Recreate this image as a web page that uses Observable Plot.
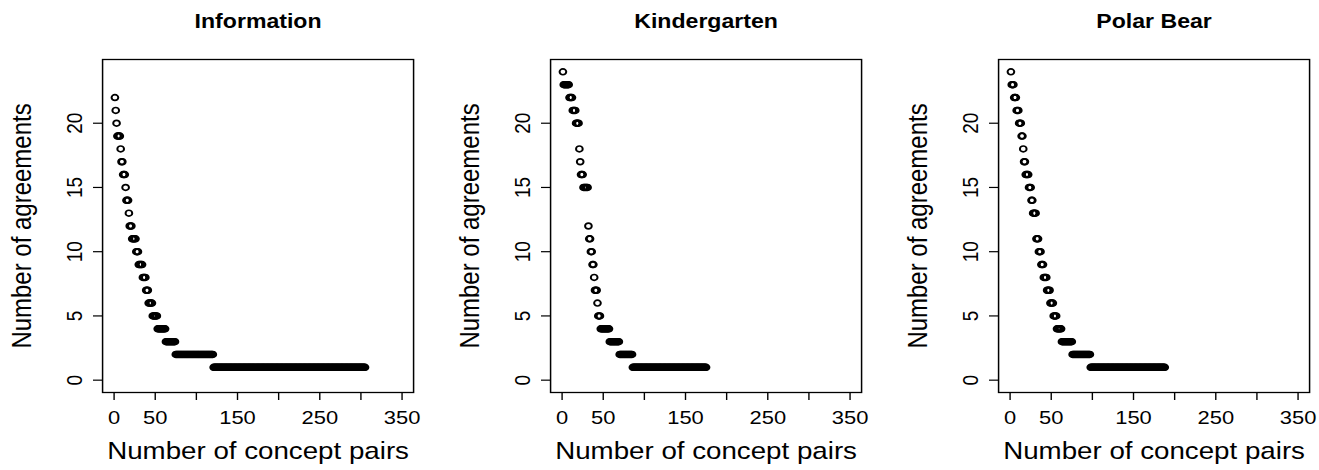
<!DOCTYPE html>
<html>
<head>
<meta charset="utf-8">
<script src="https://cdn.jsdelivr.net/npm/d3@7"></script>
<script src="https://cdn.jsdelivr.net/npm/@observablehq/plot@0.6"></script>
<style>
  html, body { margin: 0; padding: 0; background: white; overflow: hidden; }
  #row { display: flex; flex-direction: row; width: 1319px; height: 470px; }
  #row > div { flex: none; }
</style>
</head>
<body>
<div id="row"></div>
<script>
// ---- data ----
const panelTitles = ["Information", "Kindergarten", "Polar Bear"];
const agreementLevels = [24, 23, 22, 21, 20, 19, 18, 17, 16, 15, 14, 13, 12, 11, 10, 9, 8, 7, 6, 5, 4, 3, 2, 1];
// number of concept pairs at each agreement level (aligned with agreementLevels)
const informationCounts  = [0, 0, 1, 1, 1, 4, 1, 2, 3, 1, 3, 1, 3, 5, 3, 5, 4, 3, 5, 6, 10, 12, 46, 185];
const kindergartenCounts = [1, 7, 4, 4, 4, 0, 1, 1, 3, 6, 0, 0, 1, 2, 2, 2, 1, 3, 1, 3, 11, 12, 16, 90];
const polarBearCounts    = [1, 3, 3, 3, 3, 2, 1, 2, 4, 3, 2, 4, 0, 3, 3, 3, 4, 4, 4, 4, 6, 13, 22, 91];
const xTicks = [0, 50, 100, 150, 200, 250, 300, 350];
const xTickLabels = [0, 50, 150, 250, 350];
const yTicks = [0, 5, 10, 15, 20];
const xLabel = "Number of concept pairs";
const yLabel = "Number of agreements";

// ---- drawing ----
const S = 1.155;               // horizontal stretch of the original figure
const panelWidths = [448, 448, 423];
const allCounts = [informationCounts, kindergartenCounts, polarBearCounts];

function expand(counts) {
  const pts = [];
  let i = 1;
  counts.forEach((c, k) => {
    for (let j = 0; j < c; j++) pts.push({x: i++, y: agreementLevels[k]});
  });
  return pts;
}

function panel(title, counts, W) {
  const w = W / S;
  const boxL = 102, boxW = 311;
  const chart = Plot.plot({
    width: w,
    height: 470,
    marginLeft: boxL / S,
    marginRight: (W - boxL - boxW) / S,
    marginTop: 59,
    marginBottom: 78,
    x: {domain: [-14, 364]},
    y: {domain: [-0.96, 24.96]},
    style: {fontFamily: "'Liberation Sans', Arial, Helvetica, sans-serif", fontSize: "19px", background: "white", color: "black"},
    marks: [
      Plot.axisX({ticks: xTicks, tickFormat: d => xTickLabels.includes(d) ? String(d) : "", tickSize: 8, tickPadding: 10, stroke: "black", strokeWidth: 1.2, label: null}),
      Plot.axisY({ticks: yTicks, tickRotate: -90, tickSize: 9 / S, tickPadding: 12 / S, stroke: "black", strokeWidth: 1.2, label: null}),
      Plot.frame({stroke: "black", strokeWidth: 1.3}),
      Plot.dot(expand(counts), {x: "x", y: "y", r: 2.9, stroke: "black", strokeWidth: 1.7, fill: "none"}),
      Plot.text([title], {frameAnchor: "top", text: d => d, dy: -37.5, fontSize: 20, fontWeight: "bold", lineAnchor: "middle", fill: "black"}),
      Plot.text([xLabel], {frameAnchor: "bottom", text: d => d, dy: 59, fontSize: 24, lineAnchor: "middle", fill: "black"}),
      Plot.text([yLabel], {frameAnchor: "left", text: d => d, dx: (22 - boxL) / S, rotate: -90, textAnchor: "middle", fontSize: 24, lineAnchor: "middle", fill: "black"})
    ]
  });
  chart.setAttribute("width", W);
  chart.setAttribute("height", 470);
  chart.setAttribute("preserveAspectRatio", "none");
  chart.style.width = W + "px";
  chart.style.height = "470px";
  chart.style.maxWidth = "none";
  return chart;
}

const row = document.getElementById("row");
panelTitles.forEach((t, i) => {
  const div = document.createElement("div");
  div.style.width = panelWidths[i] + "px";
  div.appendChild(panel(t, allCounts[i], panelWidths[i]));
  row.appendChild(div);
});
</script>
</body>
</html>
